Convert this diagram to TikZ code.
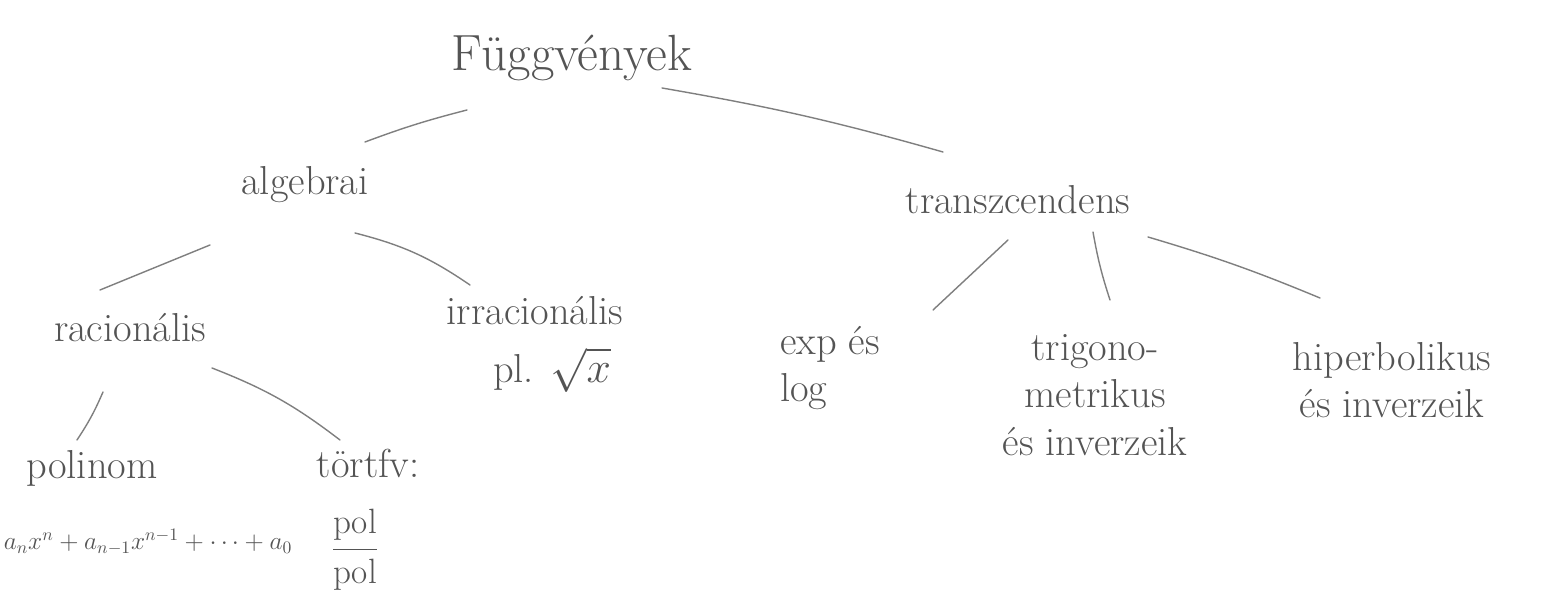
\documentclass[tikz,border=0pt]{standalone}
\usepackage{amsmath}
\usetikzlibrary{calc}
\definecolor{pen}{gray}{0.33}

\begin{document}
\begin{tikzpicture}[x=0.02cm,y=-0.02cm,
  word/.style={text=pen,font=\fontsize{23}{27}\selectfont,inner sep=2pt},
  twig/.style={pen!75,thick,line cap=round}]
\useasboundingbox (0,0) rectangle (1542,607);
% the words
\node[word,font=\fontsize{29}{34}\selectfont] (fv) at (572,58) {Függvények};
\node[word] (alg) at (305,185) {algebrai};
\node[word] (trans) at (1018,200) {transzcendens};
\node[word] (rac) at (130,328) {racionális};
\node[word] (irr) at (535,311) {irracionális};
\node[word,inner sep=0pt] (irrx) at (552,370) {pl. $\sqrt{x}$};
\node[word] (pol) at (92,468) {polinom};
\node[word,font=\fontsize{14}{18}\selectfont] (polf) at (148,542) {$a_nx^n+a_{n-1}x^{n-1}+\dots+a_0$};
\node[word] (tort) at (368,463) {törtfv:};
\node[word,font=\fontsize{20}{24}\selectfont] (tortf) at (355,550) {$\dfrac{\text{pol}}{\text{pol}}$};
\node[word,align=left] (exp) at (830,368) {exp és\\log};
\node[word,align=center] (trig) at (1095,395) {trigono-\\metrikus\\és inverzeik};
\node[word,align=center] (hip) at (1392,380) {hiperbolikus\\és inverzeik};
% the branches
\draw[twig] ($(fv)+(-105,52)$) to[bend right=3] ($(alg)+(60,-43)$);
\draw[twig] ($(fv)+(90,30)$) to[bend left=3] ($(trans)+(-75,-48)$);
\draw[twig] ($(alg)+(-95,60)$) -- ($(rac)+(-30,-38)$);
\draw[twig] ($(alg)+(50,48)$) to[bend left=10] ($(irr)+(-65,-26)$);
\draw[twig] ($(rac)+(-27,64)$) to[bend left=5] ($(pol)+(-15,-28)$);
\draw[twig] ($(rac)+(82,40)$) to[bend left=8] ($(tort)+(-28,-23)$);
\draw[twig] ($(trans)+(-10,40)$) -- ($(exp)+(103,-58)$);
\draw[twig] ($(trans)+(75,32)$) to[bend right=4] ($(trig)+(15,-95)$);
\draw[twig] ($(trans)+(130,37)$) to[bend left=3] ($(hip)+(-72,-82)$);
\end{tikzpicture}
\end{document}
